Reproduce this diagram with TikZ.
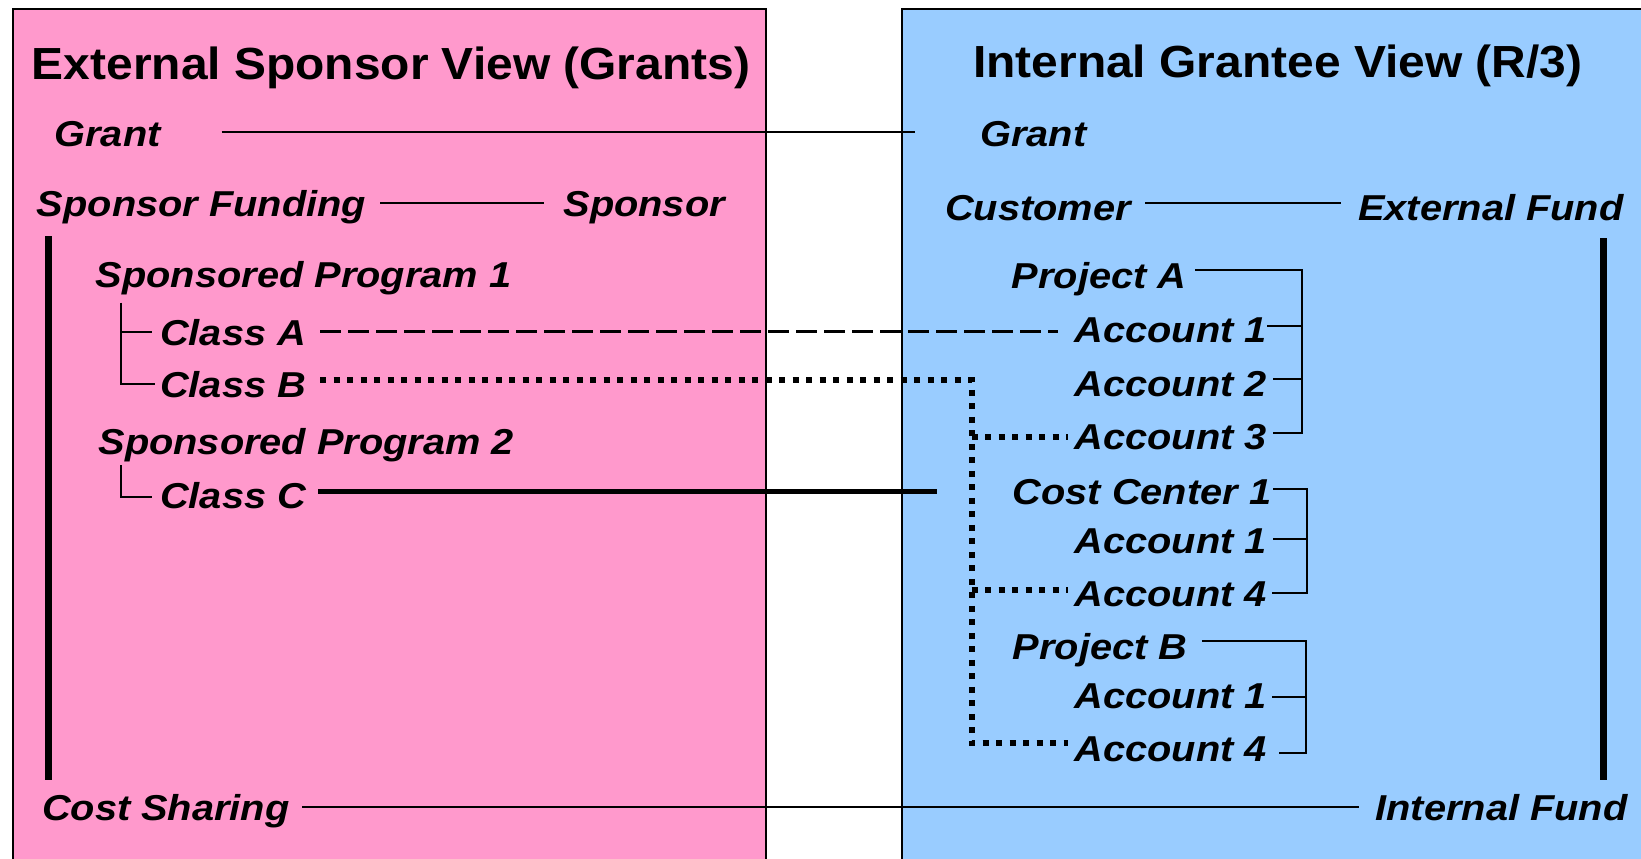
\documentclass[tikz,border=0pt]{standalone}
\usepackage{fontspec}
\newfontfamily\labfont[FakeStretch=1.105]{Liberation Sans}
\newfontfamily\ttlfont[FakeStretch=1.065]{Liberation Sans}
\definecolor{pinkc}{RGB}{255,153,204}
\definecolor{bluec}{RGB}{153,204,255}
\begin{document}
\begin{tikzpicture}[x=1pt,y=-1pt,
  lab/.style={font=\labfont\bfseries\itshape\fontsize{36}{40}\selectfont, inner sep=0pt, anchor=base west},
  ttl/.style={font=\ttlfont\bfseries\fontsize{45}{50}\selectfont, inner sep=0pt, anchor=base west},
  panel/.style={draw=black, line width=2pt},
  thin/.style={line width=2.2pt},
  bracket/.style={line width=2pt},
  thickbar/.style={line width=7pt},
  dashlink/.style={line width=2.7pt, dash pattern=on 21pt off 7pt},
  dotlink/.style={line width=6pt, dash pattern=on 6pt off 7.5pt},
  solidlink/.style={line width=5pt}]
\useasboundingbox (0,0) rectangle (1641,859);
\begin{scope}
\clip (0,0) rectangle (1641,859);
\filldraw[panel, fill=pinkc] (13.3,9.5) rectangle (766,900);
\filldraw[panel, fill=bluec] (901.7,9.5) rectangle (1700,900);
\end{scope}

% titles
\node[ttl] (ttlL) at (31.7,79) {External Sponsor View (Grants)};
\node[ttl] (ttlR) at (973,77.5) {Internal Grantee View (R/3)};

% left labels
\node[lab] (grantL) at (54.3,146.7) {Grant};
\node[lab] (sfund) at (36.7,216.5) {Sponsor Funding};
\node[lab] (sponsor) at (563.3,216.5) {Sponsor};
\node[lab] (sp1) at (95.5,287.5) {Sponsored Program 1};
\node[lab] (clA) at (160,345) {Class A};
\node[lab] (clB) at (160,397.3) {Class B};
\node[lab] (sp2) at (98.3,454) {Sponsored Program 2};
\node[lab] (clC) at (160,508.3) {Class C};
\node[lab] (cost) at (41.8,820.5) {Cost Sharing};

% right labels
\node[lab] (grantR) at (980,146.7) {Grant};
\node[lab] (cust) at (945,220) {Customer};
\node[lab] (extf) at (1358,220) {External Fund};
\node[lab] (prA) at (1011.5,288.3) {Project A};
\node[lab] (a1) at (1074.5,342.3) {Account 1};
\node[lab] (a2) at (1074.5,396) {Account 2};
\node[lab] (a3) at (1074.5,449.3) {Account 3};
\node[lab] (cc) at (1012.5,504) {Cost Center 1};
\node[lab] (c1) at (1074.5,553.3) {Account 1};
\node[lab] (c4) at (1074.5,606) {Account 4};
\node[lab] (prB) at (1012.5,659.3) {Project B};
\node[lab] (b1) at (1074.5,708.3) {Account 1};
\node[lab] (b4) at (1074.5,761.7) {Account 4};
\node[lab] (intf) at (1375.4,820.5) {Internal Fund};

% connector end points
\coordinate (gL) at (221.7,131.7);   \coordinate (gR) at (915,131.7);
\coordinate (sfE) at (380,202.7);    \coordinate (spW) at (544,202.7);
\coordinate (cuE) at (1145.4,202.7); \coordinate (efW) at (1341,202.7);
\coordinate (barLt) at (48,236);     \coordinate (barLb) at (48,780);
\coordinate (barRt) at (1603,238);   \coordinate (barRb) at (1603,780);
\coordinate (t1top) at (120.7,302.7); \coordinate (t1A) at (120.7,331.7);
\coordinate (t1Ae) at (151.7,331.7);  \coordinate (t1B) at (120.7,384.3);
\coordinate (t1Be) at (155,384.3);
\coordinate (t2top) at (120.7,465);   \coordinate (t2C) at (120.7,496.7);
\coordinate (t2Ce) at (151.7,496.7);
\coordinate (dA1) at (320,331.7);     \coordinate (dA2) at (1058,331.7);
\coordinate (dB1) at (320,380);       \coordinate (dBc) at (971.7,380);
\coordinate (dBv3) at (971.7,436.7);  \coordinate (dB3) at (1068,436.7);
\coordinate (dBv4) at (971.7,590);    \coordinate (dB4) at (1068,590);
\coordinate (dBv5) at (971.7,743.3);  \coordinate (dB5) at (1068,743.3);
\coordinate (sC1) at (318.3,491.7);   \coordinate (sC2) at (936.7,491.7);
\coordinate (cs1) at (302.3,806.7);   \coordinate (cs2) at (1358.7,806.7);
% bracket A
\coordinate (pa0) at (1195,270);      \coordinate (pa1) at (1301.8,270);
\coordinate (pa2) at (1301.8,433.3);  \coordinate (pa3) at (1273,433.3);
\coordinate (pa4) at (1267.3,325.7);  \coordinate (pa5) at (1301.8,325.7);
\coordinate (pa6) at (1273,379.3);    \coordinate (pa7) at (1301.8,379.3);
% bracket cost center
\coordinate (pc0) at (1273,489.3);    \coordinate (pc1) at (1307,489.3);
\coordinate (pc2) at (1307,593.3);    \coordinate (pc3) at (1272.4,593.3);
\coordinate (pc4) at (1273,539.3);    \coordinate (pc5) at (1307,539.3);
% bracket B
\coordinate (pb0) at (1201.8,640.7);  \coordinate (pb1) at (1306.4,640.7);
\coordinate (pb2) at (1306.4,752.7);  \coordinate (pb3) at (1278.7,752.7);
\coordinate (pb4) at (1272.4,697.3);  \coordinate (pb5) at (1306.4,697.3);

% connectors
\draw[thin] (gL) -- (gR);
\draw[thin] (sfE) -- (spW);
\draw[thin] (cuE) -- (efW);
\draw[thickbar] (barLt) -- (barLb);
\draw[thickbar] (barRt) -- (barRb);
\draw[bracket] (t1top) -- (t1B) -- (t1Be);
\draw[bracket] (t1A) -- (t1Ae);
\draw[bracket] (t2top) -- (t2C) -- (t2Ce);
\draw[dashlink] (dA1) -- (dA2);
\draw[dotlink] (dB1) -- (dBc) -- (dBv5) -- (dB5);
\draw[dotlink] (dBv3) -- (dB3);
\draw[dotlink] (dBv4) -- (dB4);
\draw[solidlink] (sC1) -- (sC2);
\draw[thin] (cs1) -- (cs2);
\draw[bracket] (pa0) -- (pa1) -- (pa2) -- (pa3);
\draw[bracket] (pa4) -- (pa5);
\draw[bracket] (pa6) -- (pa7);
\draw[bracket] (pc0) -- (pc1) -- (pc2) -- (pc3);
\draw[bracket] (pc4) -- (pc5);
\draw[bracket] (pb0) -- (pb1) -- (pb2) -- (pb3);
\draw[bracket] (pb4) -- (pb5);
\end{tikzpicture}
\end{document}
